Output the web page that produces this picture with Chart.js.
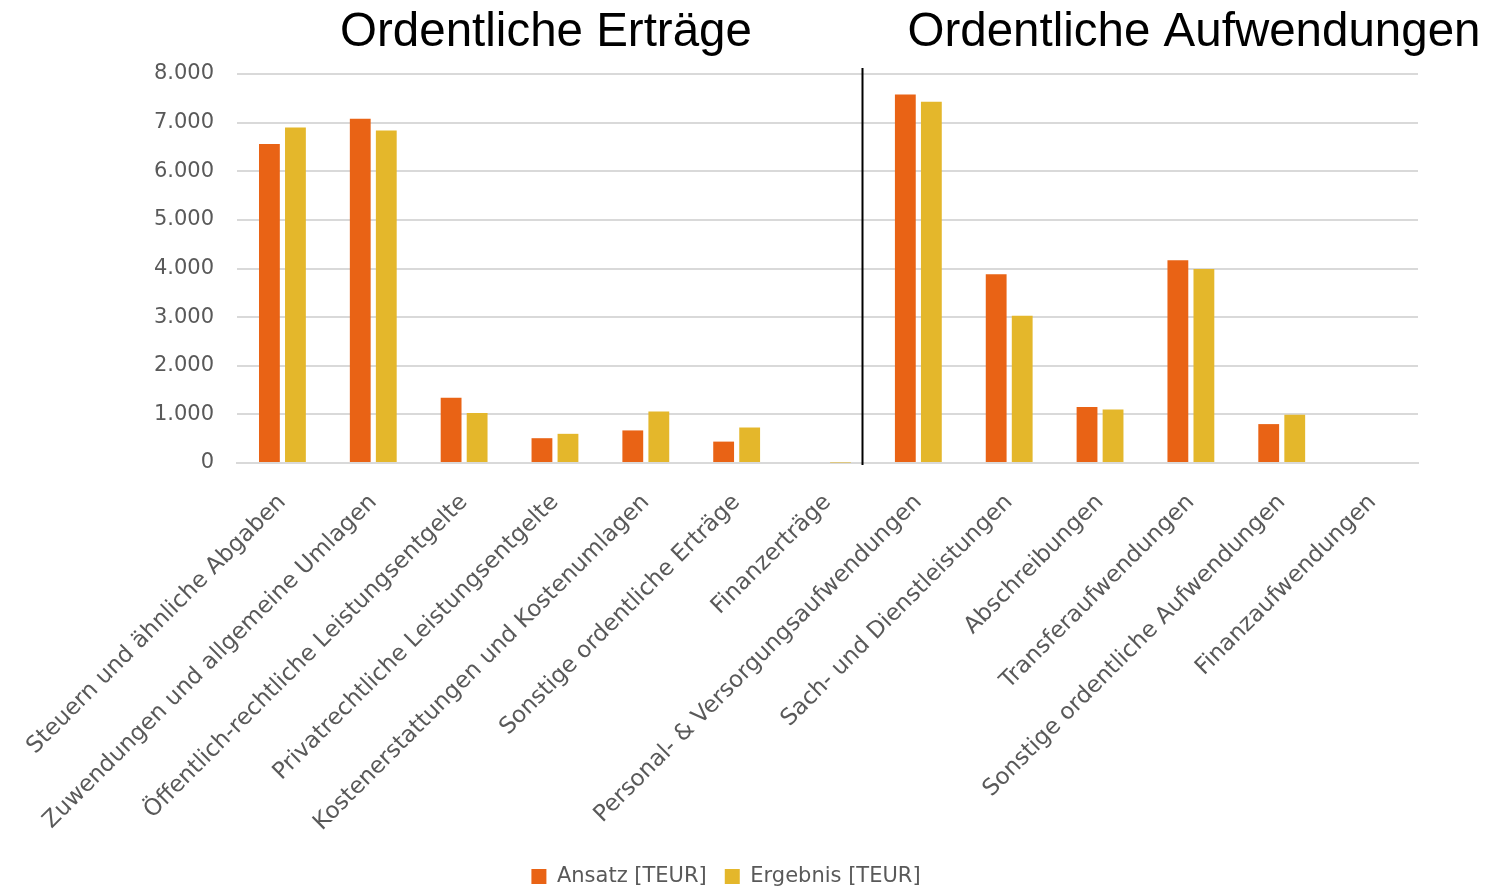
<!DOCTYPE html>
<html>
<head>
<meta charset="utf-8">
<script src="https://cdn.jsdelivr.net/npm/chart.js@4/dist/chart.umd.min.js"></script>
<style>
  html, body { margin: 0; padding: 0; background: #fff; }
  #wrap { width: 1489px; height: 890px; position: relative; }
</style>
</head>
<body>
<div id="wrap"><canvas id="chart"></canvas></div>
<script>
// categories (left part: Erträge, right part: Aufwendungen)
const categories = [
    "Steuern und ähnliche Abgaben",
    "Zuwendungen und allgemeine Umlagen",
    "Öffentlich-rechtliche Leistungsentgelte",
    "Privatrechtliche Leistungsentgelte",
    "Kostenerstattungen und Kostenumlagen",
    "Sonstige ordentliche Erträge",
    "Finanzerträge",
    "Personal- & Versorgungsaufwendungen",
    "Sach- und Dienstleistungen",
    "Abschreibungen",
    "Transferaufwendungen",
    "Sonstige ordentliche Aufwendungen",
    "Finanzaufwendungen"
];

// values in TEUR
const ansatz   = [6560, 7080, 1340, 510, 670, 440, 20, 7580, 3880, 1150, 4170, 800, 0];
const ergebnis = [6900, 6840, 1030, 600, 1060, 730, 10, 7430, 3030, 1100, 3990, 990, 0];

const seriesNames = ["Ansatz [TEUR]", "Ergebnis [TEUR]"];
const yTicks = [0, 1000, 2000, 3000, 4000, 5000, 6000, 7000, 8000];

const sectionTitles = ["Ordentliche Erträge", "Ordentliche Aufwendungen"];

const gray = "#595959";
const fontFamily = "'DejaVu Sans', sans-serif";

// titles above the two parts and the black separator line
const sectionPlugin = {
    id: "sections",
    afterDraw(chart) {
        const ctx = chart.ctx;
        const x = chart.scales.x;
        const area = chart.chartArea;
        ctx.save();
        // separator between Finanzerträge and Personalaufwendungen
        const lineX = Math.round(x.getPixelForValue(6.38)) + 0.5;
        ctx.strokeStyle = "#000";
        ctx.lineWidth = 2;
        ctx.beginPath();
        ctx.moveTo(lineX, area.top - 6);
        ctx.lineTo(lineX, area.bottom + 2);
        ctx.stroke();

        ctx.fillStyle = "#000";
        ctx.font = "47.5px 'Liberation Sans', Arial, sans-serif";
        ctx.textAlign = "center";
        ctx.textBaseline = "alphabetic";
        ctx.fillText(sectionTitles[0], 546, 46);
        ctx.fillText(sectionTitles[1], 1194, 46);
        ctx.restore();
    }
};

const ctx = document.getElementById("chart").getContext("2d");
const chart = new Chart(ctx, {
    type: "bar",
    data: {
        labels: categories,
        datasets: [
            {
                label: seriesNames[0],
                data: ansatz,
                backgroundColor: "#E96315",
                categoryPercentage: 0.573,
                barPercentage: 0.8
            },
            {
                label: seriesNames[1],
                data: ergebnis,
                backgroundColor: "#E4B72B",
                categoryPercentage: 0.573,
                barPercentage: 0.8
            }
        ]
    },
    options: {
        responsive: true,
        maintainAspectRatio: false,
        animation: false,
        layout: {
            // left padding chosen so the legend sits where it does in the original
            padding: { top: 74, right: 71, left: 34, bottom: -7 }
        },
        scales: {
            x: {
                grid: { display: false },
                border: { display: true, color: "#D9D9D9", width: 2 },
                ticks: {
                    color: gray,
                    font: { family: fontFamily, size: 23 },
                    minRotation: 45,
                    maxRotation: 45,
                    autoSkip: false,
                    padding: 18
                },
                afterFit(scale) {
                    scale.height = 385;
                }
            },
            y: {
                min: 0,
                max: 8000,
                afterBuildTicks(scale) {
                    scale.ticks = yTicks.map(v => ({ value: v }));
                },
                afterFit(scale) {
                    scale.width = 203;
                },
                grid: {
                    color: "#D9D9D9",
                    lineWidth: 2,
                    drawTicks: false
                },
                border: { display: false },
                ticks: {
                    color: gray,
                    font: { family: fontFamily, size: 21 },
                    padding: 23,
                    callback: v => v.toLocaleString("de-DE")
                }
            }
        },
        plugins: {
            legend: {
                position: "bottom",
                labels: {
                    color: gray,
                    font: { family: fontFamily, size: 21 },
                    boxWidth: 15,
                    boxHeight: 15,
                    padding: 18
                }
            },
            tooltip: { enabled: false }
        }
    },
    plugins: [sectionPlugin]
});
</script>
</body>
</html>
